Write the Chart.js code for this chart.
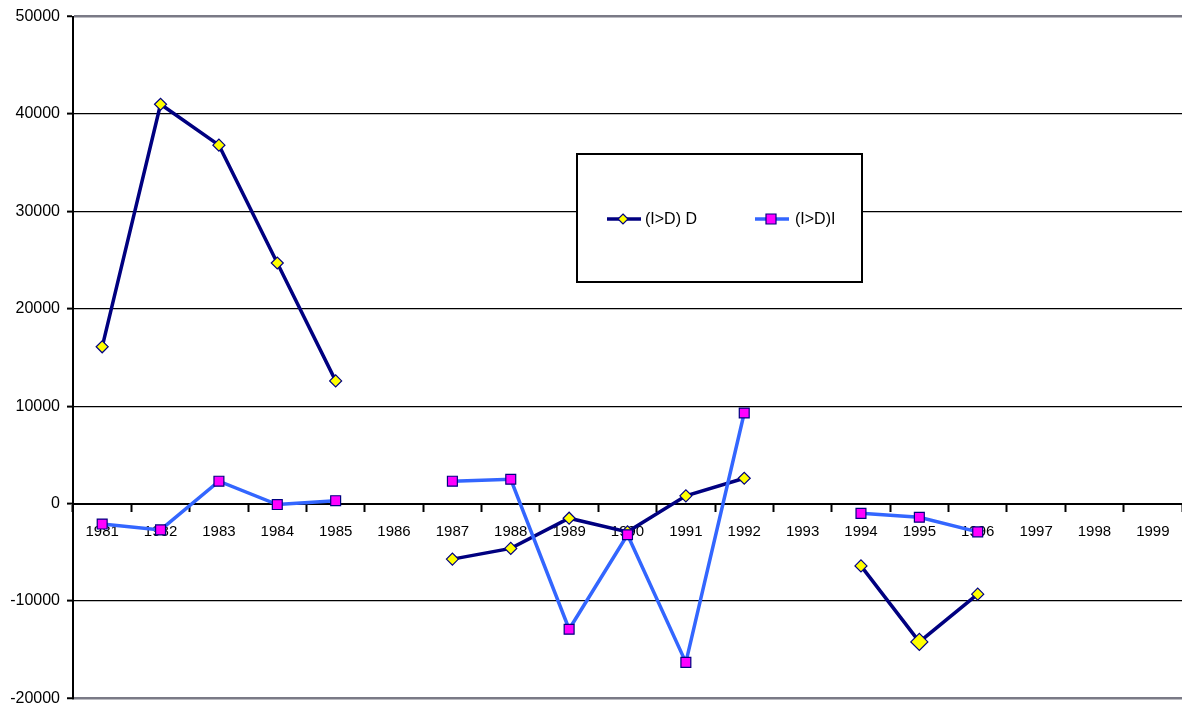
<!DOCTYPE html>
<html>
<head>
<meta charset="utf-8">
<script src="https://cdn.jsdelivr.net/npm/chart.js@4/dist/chart.umd.min.js"></script>
<style>
  html, body { margin: 0; padding: 0; background: #fff; }
  #wrap { width: 1182px; height: 715px; position: relative; }
</style>
</head>
<body>
<div id="wrap"><canvas id="c" width="1182" height="715"></canvas></div>
<script>
// Years on the category axis
const years = ['1981','1982','1983','1984','1985','1986','1987','1988','1989','1990',
               '1991','1992','1993','1994','1995','1996','1997','1998','1999'];

// (I>D) D series
const seriesD = [16100, 41000, 36800, 24700, 12600, null, -5700, -4600, -1500, -2900,
                 800, 2600, null, -6400, -14200, -9300, null, null, null];

// (I>D)I series
const seriesI = [-2100, -2700, 2300, -100, 300, null, 2300, 2500, -12900, -3200,
                 -16300, 9300, null, -1000, -1400, -2900, null, null, null];

// Value axis range and step
const yMin = -20000;
const yMax = 50000;
const yStep = 10000;

const FONT = 'Liberation Sans, Arial, sans-serif';

// Boxed legend drawn inside the plot area
const boxLegend = {
  id: 'boxLegend',
  afterDraw(chart) {
    const ctx = chart.ctx;
    const a = chart.chartArea;
    const x0 = a.left + 504, y0 = 154, w = 285, h = 128;
    ctx.save();
    ctx.fillStyle = '#ffffff';
    ctx.fillRect(x0, y0, w, h);
    ctx.strokeStyle = '#000000';
    ctx.lineWidth = 2;
    ctx.strokeRect(x0, y0, w, h);
    const items = [
      { ds: chart.data.datasets[0], lx: x0 + 30, tx: x0 + 68 },
      { ds: chart.data.datasets[1], lx: x0 + 178, tx: x0 + 218 }
    ];
    const cy = y0 + 65;
    items.forEach(it => {
      const ds = it.ds;
      ctx.strokeStyle = ds.borderColor;
      ctx.lineWidth = 3.5;
      ctx.beginPath();
      ctx.moveTo(it.lx, cy);
      ctx.lineTo(it.lx + 34, cy);
      ctx.stroke();
      ctx.fillStyle = ds.pointBackgroundColor;
      ctx.strokeStyle = ds.pointBorderColor;
      ctx.lineWidth = 1.2;
      const mx = it.lx + 16;
      ctx.beginPath();
      if (ds.pointStyle === 'rectRot') {
        const r = 5;
        ctx.moveTo(mx, cy - r); ctx.lineTo(mx + r, cy); ctx.lineTo(mx, cy + r); ctx.lineTo(mx - r, cy);
        ctx.closePath();
      } else {
        ctx.rect(mx - 5, cy - 5, 10, 10);
      }
      ctx.fill();
      ctx.stroke();
      ctx.fillStyle = '#000000';
      ctx.font = '16px ' + FONT;
      ctx.textAlign = 'left';
      ctx.textBaseline = 'middle';
      ctx.fillText(ds.label, it.tx, cy + 1);
    });
    ctx.restore();
  }
};

new Chart(document.getElementById('c'), {
  type: 'line',
  data: {
    labels: years,
    datasets: [
      {
        label: '(I>D) D',
        data: seriesD,
        borderColor: '#000080',
        borderWidth: 3.5,
        pointStyle: 'rectRot',
        pointBackgroundColor: '#ffff00',
        pointBorderColor: '#000080',
        pointBorderWidth: 1.2,
        pointRadius: ctx => (ctx.dataIndex === 14 ? 8.5 : 6),
        tension: 0,
        spanGaps: false,
        order: 2
      },
      {
        label: '(I>D)I',
        data: seriesI,
        borderColor: '#3366ff',
        borderWidth: 3.5,
        pointStyle: 'rect',
        pointBackgroundColor: '#ff00ff',
        pointBorderColor: '#000080',
        pointBorderWidth: 1.2,
        pointRadius: 7,
        tension: 0,
        spanGaps: false,
        order: 1
      }
    ]
  },
  options: {
    responsive: false,
    animation: false,
    layout: { autoPadding: false, padding: { top: 16, bottom: 13, left: 0, right: 0 } },
    plugins: {
      legend: { display: false },
      tooltip: { enabled: false }
    },
    scales: {
      x: {
        type: 'category',
        position: { y: 0 },
        offset: true,
        afterFit(scale) { scale.paddingLeft = 0; scale.paddingRight = 0; },
        grid: {
          offset: true,
          drawOnChartArea: false,
          drawTicks: true,
          tickLength: 7,
          tickColor: '#000000',
          tickWidth: 2
        },
        border: { display: true, color: '#000000', width: 2 },
        ticks: {
          color: '#000000',
          font: { family: FONT, size: 15 },
          padding: 12,
          maxRotation: 0,
          autoSkip: false
        }
      },
      y: {
        min: yMin,
        max: yMax,
        afterFit(scale) { scale.width = 73; },
        grid: {
          color: c => (c.tick && (c.tick.value === yMax || c.tick.value === yMin)) ? '#7a7a86' : '#000000',
          lineWidth: c => (c.tick && (c.tick.value === yMax || c.tick.value === yMin)) ? 2.5 : 1.2,
          tickLength: 6,
          tickColor: '#000000',
          tickWidth: 2
        },
        border: { display: true, color: '#000000', width: 2 },
        ticks: {
          stepSize: yStep,
          color: '#000000',
          font: { family: FONT, size: 16 },
          padding: 7,
          callback: v => String(v)
        }
      }
    }
  },
  plugins: [boxLegend]
});
</script>
</body>
</html>
